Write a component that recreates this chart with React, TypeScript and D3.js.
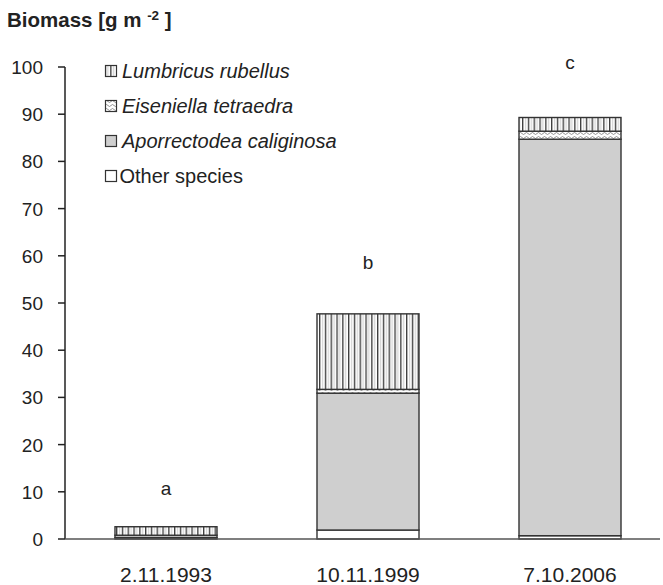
import React from "react";
import * as d3 from "d3";

const categories = ["2.11.1993", "10.11.1999", "7.10.2006"];
const seriesNames = ["Other species", "Aporrectodea caliginosa", "Eiseniella tetraedra", "Lumbricus rubellus"];
const otherSpecies = [0.3, 1.9, 0.7];
const aporrectodea = [0.5, 29.0, 84.0];
const eiseniella = [0.0, 0.8, 1.7];
const lumbricus = [1.8, 16.0, 2.9];
const letters = ["a", "b", "c"];
const letterValues = [9.3, 57.2, 99.6];
const yTicks = [0, 10, 20, 30, 40, 50, 60, 70, 80, 90, 100];

const W = 663, H = 585;

export default function App() {
  const y = d3.scaleLinear().domain([0, 100]).range([539, 67]);
  const x = d3.scaleBand().domain(categories).range([65, 671]).padding(0);
  const bw = x.bandwidth() * 0.505;
  const fills = ["#ffffff", "#cfcfcf", "url(#eis)", "url(#lum)"];
  const seriesVals = [otherSpecies, aporrectodea, eiseniella, lumbricus];
  const rows = categories.map((c, i) => {
    const r: any = { cat: c };
    seriesNames.forEach((s, k) => (r[s] = seriesVals[k][i]));
    return r;
  });
  const stack = d3.stack().keys(seriesNames)(rows as any);
  const legendOrder = [3, 2, 1, 0];
  const font = "Liberation Sans, Arial, sans-serif";
  return (
    <svg width={W} height={H} style={{ position: "absolute", left: 0, top: 0 }} fontFamily={font}>
      <defs>
        <pattern id="lum" patternUnits="userSpaceOnUse" width={5.8} height={10} x={0}>
          <rect width={5.8} height={10} fill="#fff" />
          <line x1={0.7} y1={0} x2={0.7} y2={10} stroke="#333" strokeWidth={1.3} />
          <line x1={3.6} y1={0} x2={3.6} y2={10} stroke="#bbb" strokeWidth={0.8} />
        </pattern>
        <pattern id="eis" patternUnits="userSpaceOnUse" width={6} height={4}>
          <rect width={6} height={4} fill="#fff" />
          <path d="M0,1.5 Q1.5,3.5 3,1.5 T6,1.5" fill="none" stroke="#777" strokeWidth={0.8} />
        </pattern>
      </defs>
      <text x={7} y={27} fontSize={20.5} fontWeight="bold" fill="#222">
        Biomass [g m <tspan dy={-7} fontSize={13.5}>-2</tspan><tspan dy={7}> ]</tspan>
      </text>
      {/* y axis */}
      <line x1={65} y1={y(100)} x2={65} y2={y(0)} stroke="#222" strokeWidth={1.5} />
      {yTicks.map((t) => (
        <g key={t}>
          <line x1={58} x2={65} y1={y(t)} y2={y(t)} stroke="#222" strokeWidth={1.5} />
          <text x={43} y={y(t) + 7} fontSize={19} textAnchor="end" fill="#222">{t}</text>
        </g>
      ))}
      {/* bars */}
      {stack.map((layer, k) => (
        <g key={k}>
          {layer.map((d, i) => {
            const cx = (x(categories[i]) as number) + x.bandwidth() / 2;
            const h = y(d[0]) - y(d[1]);
            if (h <= 0) return null;
            return (
              <rect key={i} x={cx - bw / 2} y={y(d[1])} width={bw} height={h}
                fill={fills[k]} stroke="#333" strokeWidth={1.4} />
            );
          })}
        </g>
      ))}
      {/* x axis */}
      <line x1={65} x2={660} y1={y(0)} y2={y(0)} stroke="#555" strokeWidth={1.5} />
      {categories.map((c, i) => {
        const cx = (x(c) as number) + x.bandwidth() / 2;
        return (
          <g key={c}>
            <text x={cx} y={582} fontSize={21} textAnchor="middle" fill="#222">{c}</text>
            <text x={cx} y={y(letterValues[i])} fontSize={19} textAnchor="middle" fill="#222">{letters[i]}</text>
          </g>
        );
      })}
      {/* legend */}
      {legendOrder.map((k, j) => {
        const base = 78 + j * 35;
        return (
          <g key={k}>
            <rect x={105.5} y={base - 12.5} width={11} height={11} fill={fills[k]} stroke="#333" strokeWidth={1.2} />
            <text x={k === 0 ? 119.5 : 122} y={base} fontSize={20} fontStyle={k === 0 ? "normal" : "italic"} fill="#222">
              {seriesNames[k]}
            </text>
          </g>
        );
      })}
    </svg>
  );
}
